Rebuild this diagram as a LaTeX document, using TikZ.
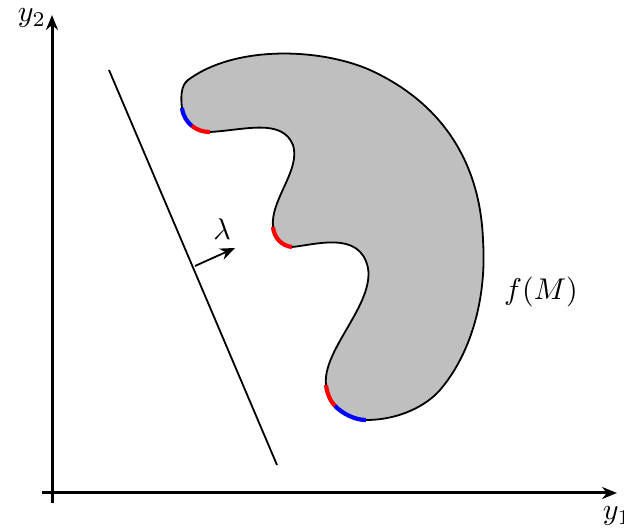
\documentclass[tikz,border=0pt]{standalone}
\usepackage{amsmath,amssymb}
\usetikzlibrary{arrows.meta}

\begin{document}
\begin{tikzpicture}[
    x=0.3333pt, y=-0.3333pt,
    axis/.style = {line width=1pt, -{Stealth[length=5pt, width=4pt]}},
    outline/.style = {semithick, fill=lightgray, draw=black},
    redarc/.style = {red, line width=1.4pt},
    bluearc/.style = {blue, line width=1.4pt},
    hyper/.style = {semithick},
    normal/.style = {semithick, -{Stealth[length=5pt, width=4pt]}}
]
\useasboundingbox (0,0) rectangle (624,528);

% Axes
\coordinate (xstart) at (42,493);
\coordinate (xend) at (617,493);
\coordinate (ystart) at (52,503);
\coordinate (yend) at (52,15);
\draw [axis] (xstart) -- (xend);
\draw [axis] (ystart) -- (yend);
\node (ylab) at (32,18) {$y_2$};
\node (xlab) at (617,516) {$y_1$};

% The image f(M)
\draw [outline] (182,108) .. controls (183,116) and (187,122) .. (192,126)
    .. controls (197,130) and (203,132) .. (210,132)
    .. controls (245,130) and (282,118) .. (293,145)
    .. controls (301,170) and (270,200) .. (273,227)
    .. controls (274,238) and (282,246) .. (292,247)
    .. controls (315,245) and (360,230) .. (368,268)
    .. controls (374,305) and (322,350) .. (326,385)
    .. controls (327,393) and (330,401) .. (335,406)
    .. controls (343,414) and (355,420) .. (366,420)
    .. controls (400,420) and (427,405) .. (440,390)
    .. controls (470,355) and (487,300) .. (483,240)
    .. controls (480,160) and (440,102) .. (370,70)
    .. controls (320,48) and (235,45) .. (188,80)
    .. controls (180,86) and (181,100) .. (182,108) -- cycle;
\node (fM) at (541,292) {$f(M)$};

% Coloured pieces of the boundary
\draw [bluearc] (182,108) .. controls (183,116) and (187,122) .. (192,126);
\draw [redarc] (192,126) .. controls (197,130) and (203,132) .. (210,132);
\draw [redarc] (273,227) .. controls (274,238) and (282,246) .. (292,247);
\draw [redarc] (326,385) .. controls (327,393) and (330,401) .. (335,406);
\draw [bluearc] (335,406) .. controls (343,414) and (355,420) .. (366,420);

% Hyperplane and its normal
\coordinate (htop) at (109,70);
\coordinate (hbot) at (277,465);
\draw [hyper] (htop) -- (hbot);
\coordinate (nfoot) at (195,266);
\coordinate (ntip) at (235,248);
\draw [normal] (nfoot) -- (ntip);
\node (lam) at (222,229) {$\lambda$};

\end{tikzpicture}
\end{document}
